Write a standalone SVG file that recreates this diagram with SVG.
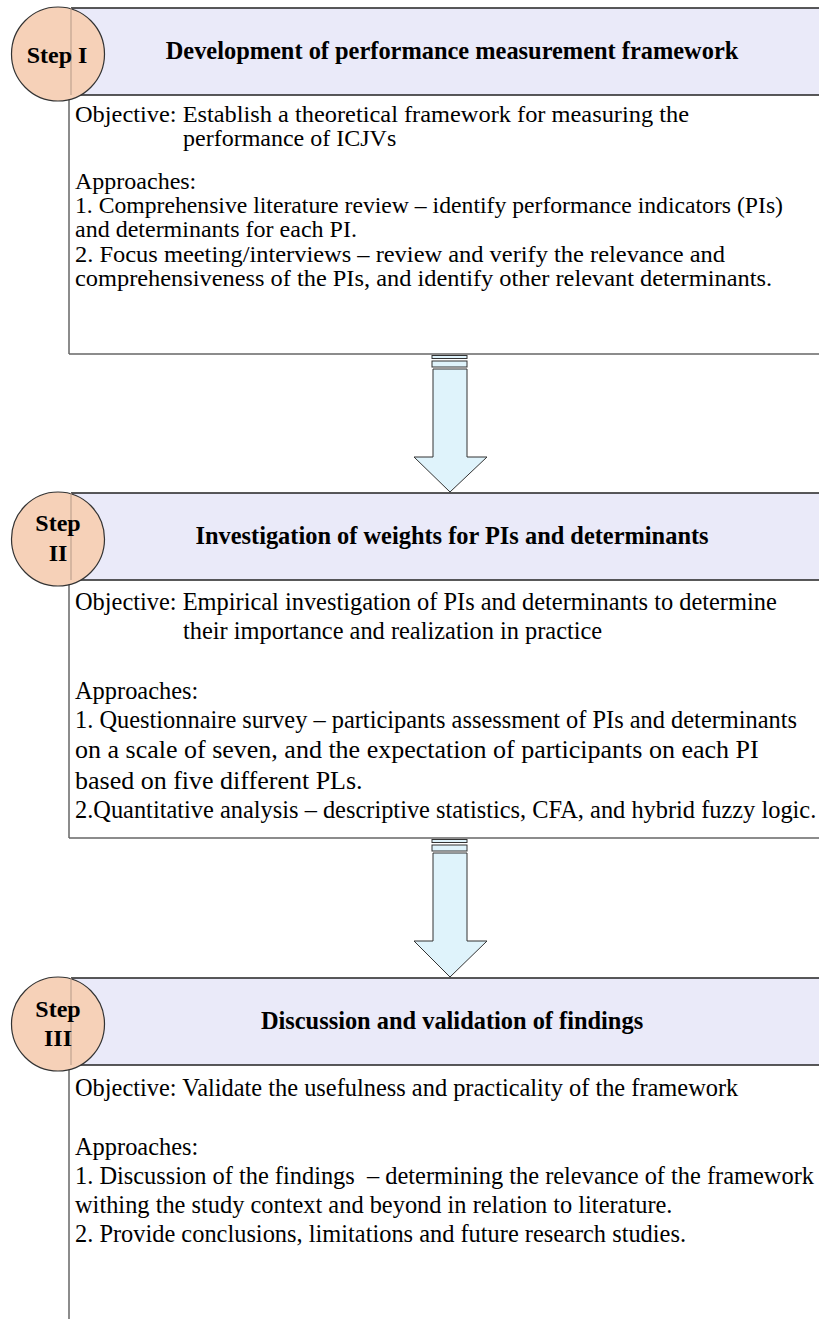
<svg xmlns="http://www.w3.org/2000/svg" width="819" height="1319" viewBox="0 0 819 1319">
<style>
.hdr{fill:#EAEAF9;stroke:none}
.hline{stroke:#222;stroke-width:1.5}
.bline{stroke:#666;stroke-width:1.5}
.circ{fill:#F6D1B8;stroke:#333;stroke-width:1.2}
.cedge{stroke:#B59A88;stroke-width:1}
.ht{font-family:"Liberation Serif",serif;font-weight:bold;font-size:24.4px;fill:#000;text-anchor:middle}
.st{font-family:"Liberation Serif",serif;font-weight:bold;font-size:24px;fill:#000;text-anchor:middle}
.bt{font-family:"Liberation Serif",serif;font-size:24.4px;fill:#000}
.b1{font-family:"Liberation Serif",serif;font-size:24px;fill:#000}
.bt2{font-family:"Liberation Serif",serif;font-size:26px;fill:#000}
.arr{fill:#DFF3FB;stroke:#333;stroke-width:1}
</style>
<rect width="819" height="1319" fill="#fff"/>

<g id="step1">
<rect class="hdr" x="71" y="8" width="760" height="87"/>
<line class="hline" x1="71" y1="8" x2="819" y2="8"/>
<line class="hline" x1="71" y1="95" x2="819" y2="95"/>
<line class="bline" x1="69" y1="95" x2="69" y2="354"/>
<line class="bline" x1="69" y1="354" x2="819" y2="354"/>
<ellipse class="circ" cx="58" cy="54" rx="46.5" ry="47"/>
<line class="cedge" x1="71" y1="8" x2="71" y2="95"/>
<text class="st" x="57" y="63">Step I</text>
<text class="ht" x="452" y="59">Development of performance measurement framework</text>
<text class="b1" x="75" y="122" textLength="614" lengthAdjust="spacingAndGlyphs">Objective: Establish a theoretical framework for measuring the</text>
<text class="b1" x="183" y="146">performance of ICJVs</text>
<text class="b1" x="75" y="189">Approaches:</text>
<text class="b1" x="75" y="213" textLength="708" lengthAdjust="spacingAndGlyphs">1. Comprehensive literature review – identify performance indicators (PIs)</text>
<text class="b1" x="75" y="237">and determinants for each PI.</text>
<text class="b1" x="75" y="262" textLength="650" lengthAdjust="spacingAndGlyphs">2. Focus meeting/interviews – review and verify the relevance and</text>
<text class="b1" x="75" y="286" textLength="697" lengthAdjust="spacingAndGlyphs">comprehensiveness of the PIs, and identify other relevant determinants.</text>
</g>

<g id="step2">
<rect class="hdr" x="71" y="493" width="760" height="87"/>
<line class="hline" x1="71" y1="493" x2="819" y2="493"/>
<line class="hline" x1="71" y1="580" x2="819" y2="580"/>
<line class="bline" x1="69" y1="580" x2="69" y2="838"/>
<line class="bline" x1="69" y1="838" x2="819" y2="838"/>
<ellipse class="circ" cx="58" cy="539" rx="46.5" ry="47"/>
<line class="cedge" x1="71" y1="493" x2="71" y2="580"/>
<text class="st" x="58" y="531">Step</text>
<text class="st" x="58" y="561">II</text>
<text class="ht" x="452" y="544">Investigation of weights for PIs and determinants</text>
<text class="bt" x="75" y="610">Objective: Empirical investigation of PIs and determinants to determine</text>
<text class="bt" x="183" y="639">their importance and realization in practice</text>
<text class="bt" x="75" y="699">Approaches:</text>
<text class="bt" x="75" y="728">1. Questionnaire survey – participants assessment of PIs and determinants</text>
<text class="bt2" x="75" y="758">on a scale of seven, and the expectation of participants on each PI</text>
<text class="bt2" x="75" y="789">based on five different PLs.</text>
<text class="bt" x="75" y="818">2.Quantitative analysis – descriptive statistics, CFA, and hybrid fuzzy logic.</text>
</g>

<g id="step3">
<rect class="hdr" x="71" y="978" width="760" height="87"/>
<line class="hline" x1="71" y1="978" x2="819" y2="978"/>
<line class="hline" x1="71" y1="1065" x2="819" y2="1065"/>
<line class="bline" x1="69" y1="1065" x2="69" y2="1319"/>
<ellipse class="circ" cx="58" cy="1024" rx="46.5" ry="47"/>
<line class="cedge" x1="71" y1="978" x2="71" y2="1065"/>
<text class="st" x="58" y="1017">Step</text>
<text class="st" x="58" y="1046">III</text>
<text class="ht" x="452" y="1029">Discussion and validation of findings</text>
<text class="bt" x="75" y="1096">Objective: Validate the usefulness and practicality of the framework</text>
<text class="bt" x="75" y="1155">Approaches:</text>
<text class="bt" x="75" y="1184" xml:space="preserve">1. Discussion of the findings  – determining the relevance of the framework</text>
<text class="bt" x="75" y="1213">withing the study context and beyond in relation to literature.</text>
<text class="bt" x="75" y="1242">2. Provide conclusions, limitations and future research studies.</text>
</g>

<g id="connectors">
<rect class="arr" x="432" y="355.5" width="35" height="3"/>
<rect class="arr" x="432" y="361" width="35" height="6"/>
<polygon class="arr" points="433,369 467,369 467,457 487,457 450,492 414,457 433,457"/>
<rect class="arr" x="432" y="839.5" width="35" height="3"/>
<rect class="arr" x="432" y="845" width="35" height="6"/>
<polygon class="arr" points="433,853 467,853 467,941 487,941 450,977 414,941 433,941"/>
</g>
</svg>
